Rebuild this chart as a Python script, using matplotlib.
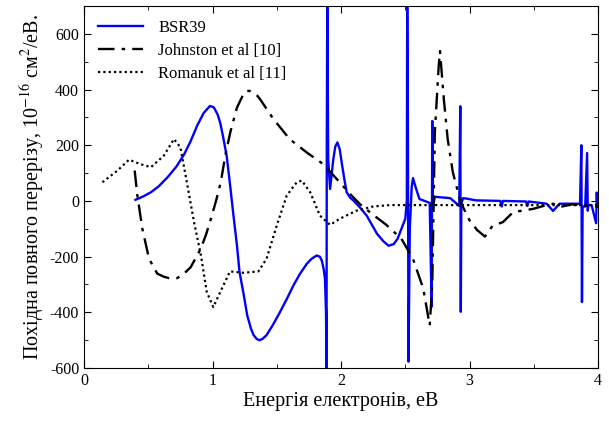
import matplotlib
matplotlib.use("Agg")
import matplotlib.pyplot as plt
from matplotlib.ticker import MultipleLocator

plt.rcParams["font.family"] = ["Liberation Serif", "DejaVu Serif"]
plt.rcParams["mathtext.fontset"] = "stix"
plt.rcParams["axes.unicode_minus"] = False

# BSR39 (blue solid)
bsr_e = [0.40, 0.46, 0.52, 0.58, 0.65, 0.72, 0.78, 0.83, 0.88, 0.93, 0.98, 1.01,
         1.04, 1.06, 1.08, 1.11, 1.14, 1.16, 1.19, 1.21, 1.24, 1.27, 1.30, 1.32,
         1.345, 1.365, 1.39, 1.42, 1.47, 1.525, 1.58, 1.63, 1.68, 1.733, 1.77,
         1.81, 1.835, 1.85, 1.865, 1.875, 1.883, 1.887, 1.889, 1.893, 1.90, 1.915,
         1.94, 1.955, 1.972, 1.99, 2.005, 2.025, 2.044, 2.07, 2.097, 2.148, 2.20,
         2.28, 2.33, 2.37, 2.41, 2.44, 2.47, 2.50, 2.512, 2.515, 2.52, 2.525,
         2.535, 2.55, 2.56, 2.58, 2.61, 2.69, 2.705, 2.71, 2.715, 2.73, 2.75,
         2.85, 2.92, 2.928, 2.932, 2.936, 2.95, 2.98, 3.05, 3.24, 3.25, 3.26,
         3.44, 3.45, 3.46, 3.60, 3.65, 3.70, 3.86, 3.870, 3.875, 3.880, 3.90,
         3.915, 3.92, 3.925, 3.95, 3.985, 3.99, 3.995, 4.00]
bsr_v = [4, 16, 31, 52, 85, 124, 168, 215, 270, 315, 341, 336,
         310, 280, 235, 162, 43, -41, -160, -255, -330, -411, -460, -482,
         -496, -500, -495, -482, -445, -399, -350, -303, -262, -226, -208,
         -196, -200, -214, -245, -279, -400, -620, 200, 720, 150, 43,
         150, 195, 210, 185, 138, 80, 31, 12, 1, -24, -53,
         -118, -145, -161, -155, -136, -100, -64, 0, 720, 300, -577,
         -100, 50, 82, 50, 7, -7, -380, 287, -20, 15, 14,
         10, -18, 340, -398, -10, 10, 8, 2, 0, -20, 0,
         -2, -18, -2, -10, -36, -10, -10, 200, -363, -20, -20,
         172, -35, -15, -15, -80, 30, -20, -10]

# Johnston et al [10] (black dash-dot)
jon_e = [0.394, 0.415, 0.454, 0.506, 0.57, 0.62, 0.66, 0.726, 0.78, 0.83, 0.908,
         0.95, 0.99, 1.03, 1.064, 1.10, 1.14, 1.19, 1.24, 1.266, 1.29, 1.35, 1.37,
         1.474, 1.60, 1.733, 1.862, 1.966, 2.07, 2.148, 2.25, 2.35, 2.47, 2.56,
         2.64, 2.69, 2.71, 2.73, 2.76, 2.77, 2.80, 2.83, 2.87, 2.93, 3.00, 3.06,
         3.12, 3.18, 3.26, 3.34, 3.49, 3.60, 3.65, 3.70, 3.80, 3.90, 4.00]
jon_v = [109, 19, -100, -208, -261, -272, -277, -277, -260, -238, -172,
         -120, -60, 5, 67, 165, 250, 335, 383, 395, 395, 377, 365,
         294, 222, 174, 132, 79, 25, -12, -50, -85, -136, -208,
         -315, -447, -300, 247, 484, 538, 365, 222, 103, -4, -70, -105,
         -128, -89, -76, -40, -29, -15, -10, -22, -12, -18, -20]

# Romanuk et al [11] (black dotted)
rom_e = [0.143, 0.26, 0.35, 0.44, 0.52, 0.62, 0.70, 0.75, 0.80, 0.856, 0.91,
         0.955, 1.006, 1.06, 1.136, 1.24, 1.357, 1.42, 1.50, 1.577, 1.655, 1.695,
         1.76, 1.836, 1.915, 1.99, 2.12, 2.25, 2.38, 3.00, 4.00]
rom_v = [67, 109, 148, 132, 121, 162, 222, 192, 67, -76, -196,
         -327, -381, -327, -253, -258, -253, -208, -88, 19, 67, 73,
         31, -53, -86, -64, -35, -20, -15, -15, -15]

fig = plt.figure(figsize=(6.09, 4.25), dpi=100)
ax = fig.add_axes([0.138, 0.134, 0.844, 0.852])

ax.plot(bsr_e, bsr_v, color="#0000ff", lw=1.7, label="BSR39")
ax.plot(jon_e, jon_v, color="black", lw=1.7, dashes=(7, 3, 1.5, 3),
        label="Johnston et al [10]")
ax.plot(rom_e, rom_v, color="black", lw=1.6, linestyle=(0, (1, 1.4)),
        label="Romanuk et al [11]")

ax.set_xlim(0, 4)
ax.set_ylim(-600, 700)
ax.xaxis.set_major_locator(MultipleLocator(1))
ax.xaxis.set_minor_locator(MultipleLocator(0.5))
ax.yaxis.set_major_locator(MultipleLocator(200))
ax.yaxis.set_minor_locator(MultipleLocator(100))
ax.tick_params(which="both", direction="in", top=True, right=True, labelsize=11.5)
ax.tick_params(which="major", length=5)
ax.tick_params(which="minor", length=3)

ax.set_xlabel("Енергія електронів, еВ", fontsize=14.5, labelpad=2)
ax.set_ylabel("Похідна повного перерізу, 10$^{-16}$ см$^2$/еВ.", fontsize=14.5, labelpad=2)

ax.legend(loc="upper left", frameon=False, fontsize=12, handlelength=2.7,
          handletextpad=0.9, borderaxespad=0.45, labelspacing=0.42)

fig.savefig("out.png", dpi=100)
